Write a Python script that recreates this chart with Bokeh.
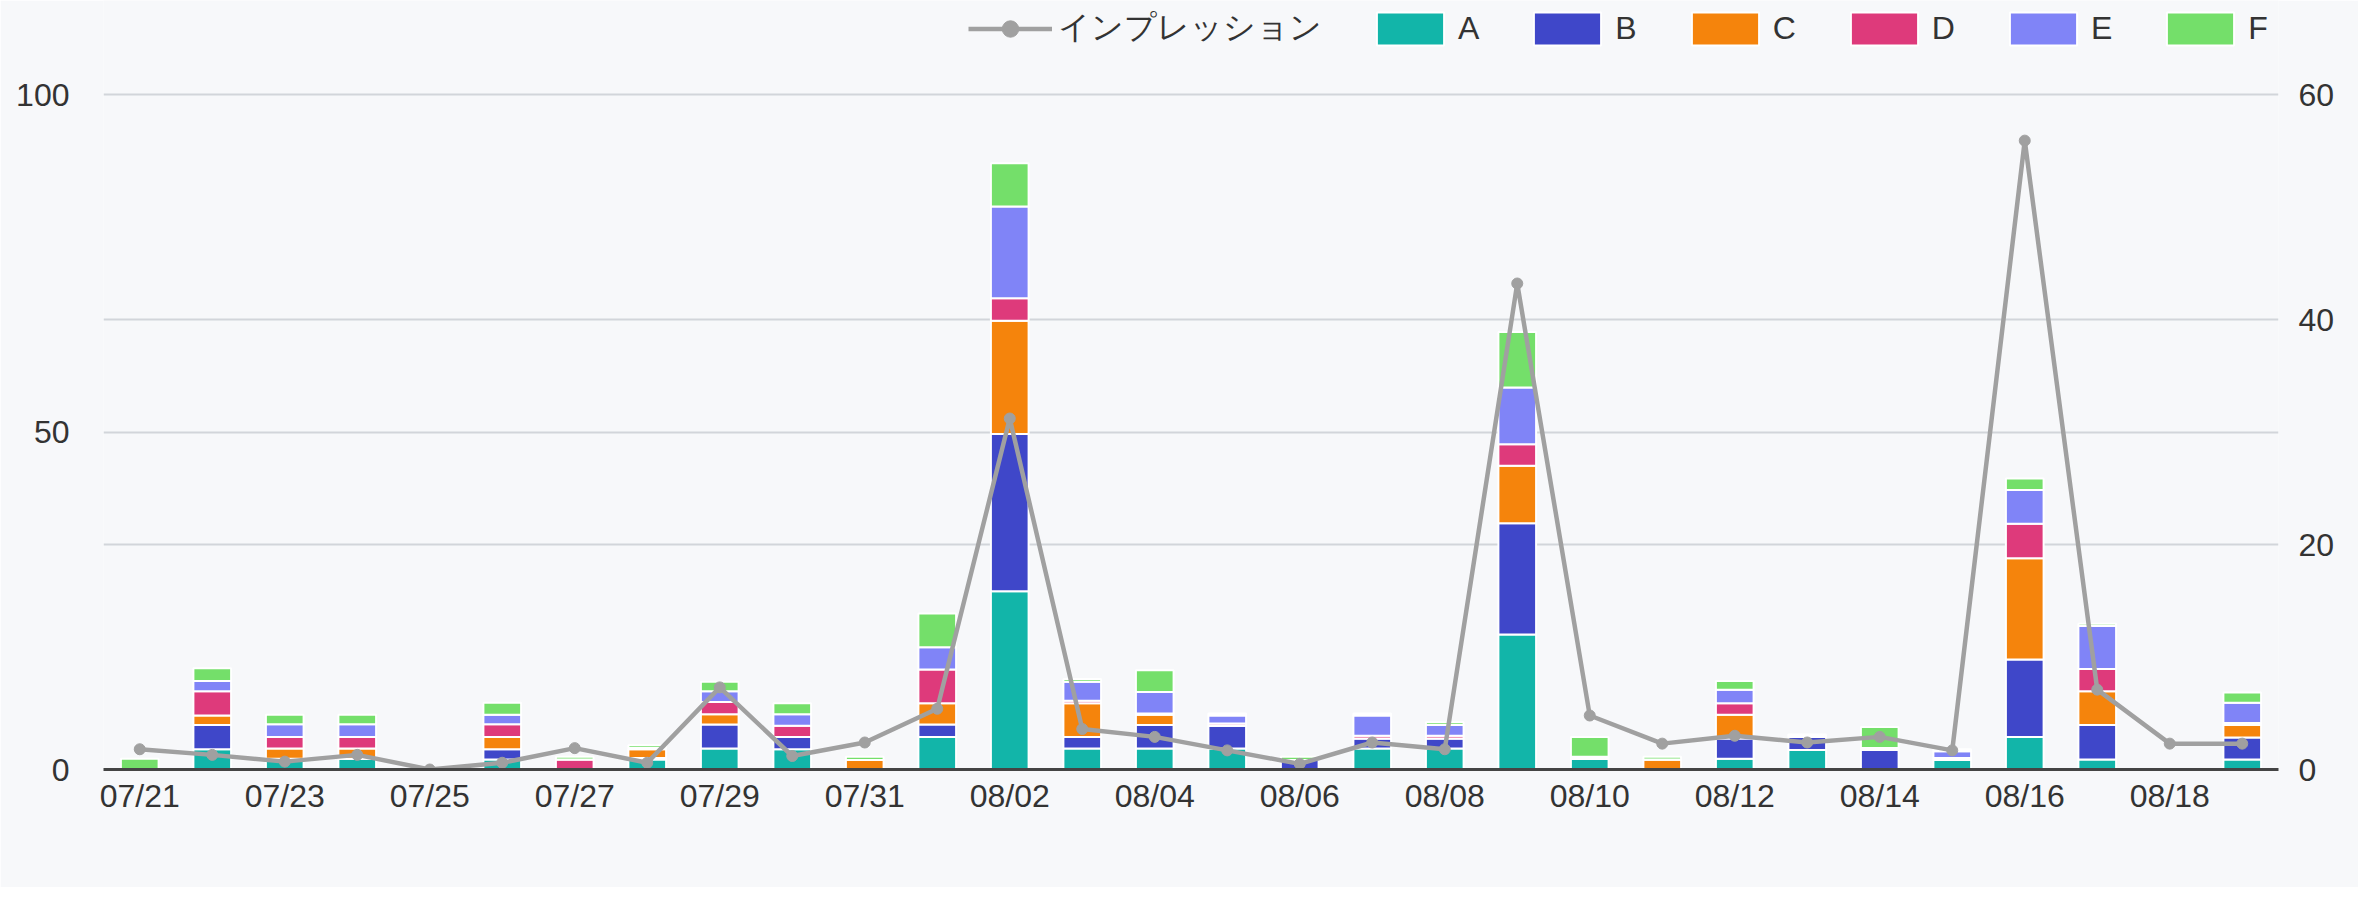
from bokeh.plotting import figure
from bokeh.models import (Range1d, LinearAxis, FixedTicker, Legend, LegendItem,
                          ColumnDataSource)
from bokeh.embed import file_html
from bokeh.resources import INLINE

dates = ["07/21", "07/22", "07/23", "07/24", "07/25", "07/26", "07/27", "07/28",
         "07/29", "07/30", "07/31", "08/01", "08/02", "08/03", "08/04", "08/05",
         "08/06", "08/07", "08/08", "08/09", "08/10", "08/11", "08/12", "08/13",
         "08/14", "08/15", "08/16", "08/17", "08/18", "08/19"]

series_names = ["A", "B", "C", "D", "E", "F"]
A = [0, 3.0, 1.3, 1.6, 0, 1.5, 0, 1.5, 3.1, 3.0, 0, 4.8, 26.4, 3.1, 3.1, 3.1, 0, 3.1, 3.1, 20.0,
     1.6, 0, 1.6, 2.9, 0, 1.4, 4.8, 1.5, 0, 1.5]
B = [0, 3.6, 0.3, 0, 0, 1.5, 0, 0.2, 3.55, 1.8, 0, 1.85, 23.3, 1.7, 3.5, 3.4, 1.4, 1.5, 1.5, 16.5,
     0, 0, 3.0, 1.9, 2.9, 0, 11.5, 5.1, 0, 3.25]
C = [0, 1.4, 1.5, 1.5, 0, 1.8, 0, 1.3, 1.55, 0, 1.4, 3.15, 16.8, 5.0, 1.5, 0, 0, 0, 0, 8.5,
     0, 1.5, 3.5, 0, 0, 0, 15.0, 5.0, 0, 1.85]
D = [0, 3.6, 1.7, 1.7, 0, 1.9, 1.5, 0.2, 1.8, 1.7, 0, 5.0, 3.3, 0.4, 0.2, 0.3, 0, 0.4, 0.4, 3.2,
     0, 0, 1.7, 0, 0, 0.3, 5.1, 3.3, 0, 0.3]
E = [0, 1.5, 1.9, 1.9, 0, 1.4, 0, 0, 1.6, 1.7, 0, 3.3, 13.6, 2.8, 3.2, 1.2, 0, 3.0, 1.6, 8.4,
     0.3, 0, 2.0, 0.2, 0.3, 1.0, 5.0, 6.35, 0, 3.0]
F = [1.6, 1.9, 1.4, 1.4, 0, 1.8, 0.4, 0.4, 1.4, 1.6, 0.5, 5.0, 6.4, 0.4, 3.2, 0.3, 0.5, 0.3, 0.4, 8.2,
     2.9, 0.4, 1.3, 0.2, 3.1, 0.3, 1.7, 0.35, 0, 1.5]
impressions = [1.8, 1.3, 0.7, 1.3, 0, 0.6, 1.9, 0.6, 7.3, 1.2, 2.4, 5.4, 31.2, 3.6, 2.9, 1.7,
               0.5, 2.4, 1.8, 43.2, 4.8, 2.3, 3.0, 2.4, 2.9, 1.7, 55.9, 7.1, 2.3, 2.3]
line_name = "インプレッション"

left_ticks = [0, 50, 100]
right_ticks = [0, 20, 40, 60]
left_max, right_max = 100, 60

colors = ["#12b5a9", "#3f47c9", "#f5840c", "#de3a7b", "#8084f7", "#74df6a"]
line_color = "#a0a0a0"
bg = "#f7f8fa"
text_color = "#333333"
font = "Liberation Sans"

# layout (pixels)
W, H = 2358, 887
frame_left, frame_right, frame_bottom = 103, 2278, 769
axis_top = 94            # where the top tick (100 / 60) sits
plot_h = frame_bottom - axis_top
head = frame_bottom / plot_h   # extra room above the top tick for the legend

x = list(range(len(dates)))
src = ColumnDataSource(dict(x=x, A=A, B=B, C=C, D=D, E=E, F=F, imp=impressions))

p = figure(width=W, height=H, output_backend="svg", toolbar_location=None,
           x_range=Range1d(-0.5, len(dates) - 0.5), y_range=Range1d(0, left_max * head),
           min_border_left=frame_left, min_border_right=W - frame_right, min_border_top=0,
           min_border_bottom=H - frame_bottom, background_fill_color=bg,
           border_fill_color=bg, outline_line_color=None)
p.extra_y_ranges = {"imp": Range1d(0, right_max * head)}

# grid lines from both axes
p.xgrid.visible = False
p.ygrid.ticker = FixedTicker(ticks=[0, 100 / 3, 50, 200 / 3, 100])
p.ygrid.grid_line_color = "#d2d5da"
p.ygrid.grid_line_width = 2

bars = p.vbar_stack(series_names, x="x", width=0.52, color=colors, line_color="white",
                    line_width=2, source=src)

r_line = p.line("x", "imp", y_range_name="imp", line_color=line_color, line_width=4.5,
                source=src)
r_pts = p.scatter("x", "imp", y_range_name="imp", size=11, color=line_color, source=src)

# axes
xa = p.xaxis[0]
xa.ticker = FixedTicker(ticks=list(range(0, len(dates), 2)))
xa.major_label_overrides = {i: d for i, d in enumerate(dates)}
xa.axis_line_color = "#444444"
xa.axis_line_width = 3
xa.major_tick_line_color = None
xa.minor_tick_line_color = None
xa.major_tick_out = 0
xa.major_label_standoff = 8
xa.major_label_text_font_size = "32px"
xa.major_label_text_font = font
xa.major_label_text_color = text_color

ya = p.yaxis[0]
ya.ticker = FixedTicker(ticks=left_ticks)
ya.axis_line_color = None
ya.major_tick_line_color = None
ya.minor_tick_line_color = None
ya.major_tick_out = 0
ya.major_tick_in = 0
ya.major_label_standoff = 34
ya.major_label_text_font_size = "32px"
ya.major_label_text_font = font
ya.major_label_text_color = text_color

ra = LinearAxis(y_range_name="imp", ticker=FixedTicker(ticks=right_ticks))
ra.axis_line_color = None
ra.major_tick_line_color = None
ra.minor_tick_line_color = None
ra.major_tick_out = 0
ra.major_tick_in = 0
ra.major_label_standoff = 20
ra.major_label_text_font_size = "32px"
ra.major_label_text_font = font
ra.major_label_text_color = text_color
p.add_layout(ra, "right")

items = [LegendItem(label=line_name, renderers=[r_line, r_pts])]
for name, r in zip(series_names, bars):
    items.append(LegendItem(label=name, renderers=[r]))

legend = Legend(items=items, orientation="horizontal", location=(968 - frame_left, 719),
                glyph_width=84, glyph_height=41, label_standoff=6, spacing=46,
                padding=0, margin=0, border_line_color=None, background_fill_alpha=0,
                label_text_font_size="32px", label_text_font=font,
                label_text_color=text_color)
p.add_layout(legend)

open("out.html", "w").write(file_html(p, INLINE))
